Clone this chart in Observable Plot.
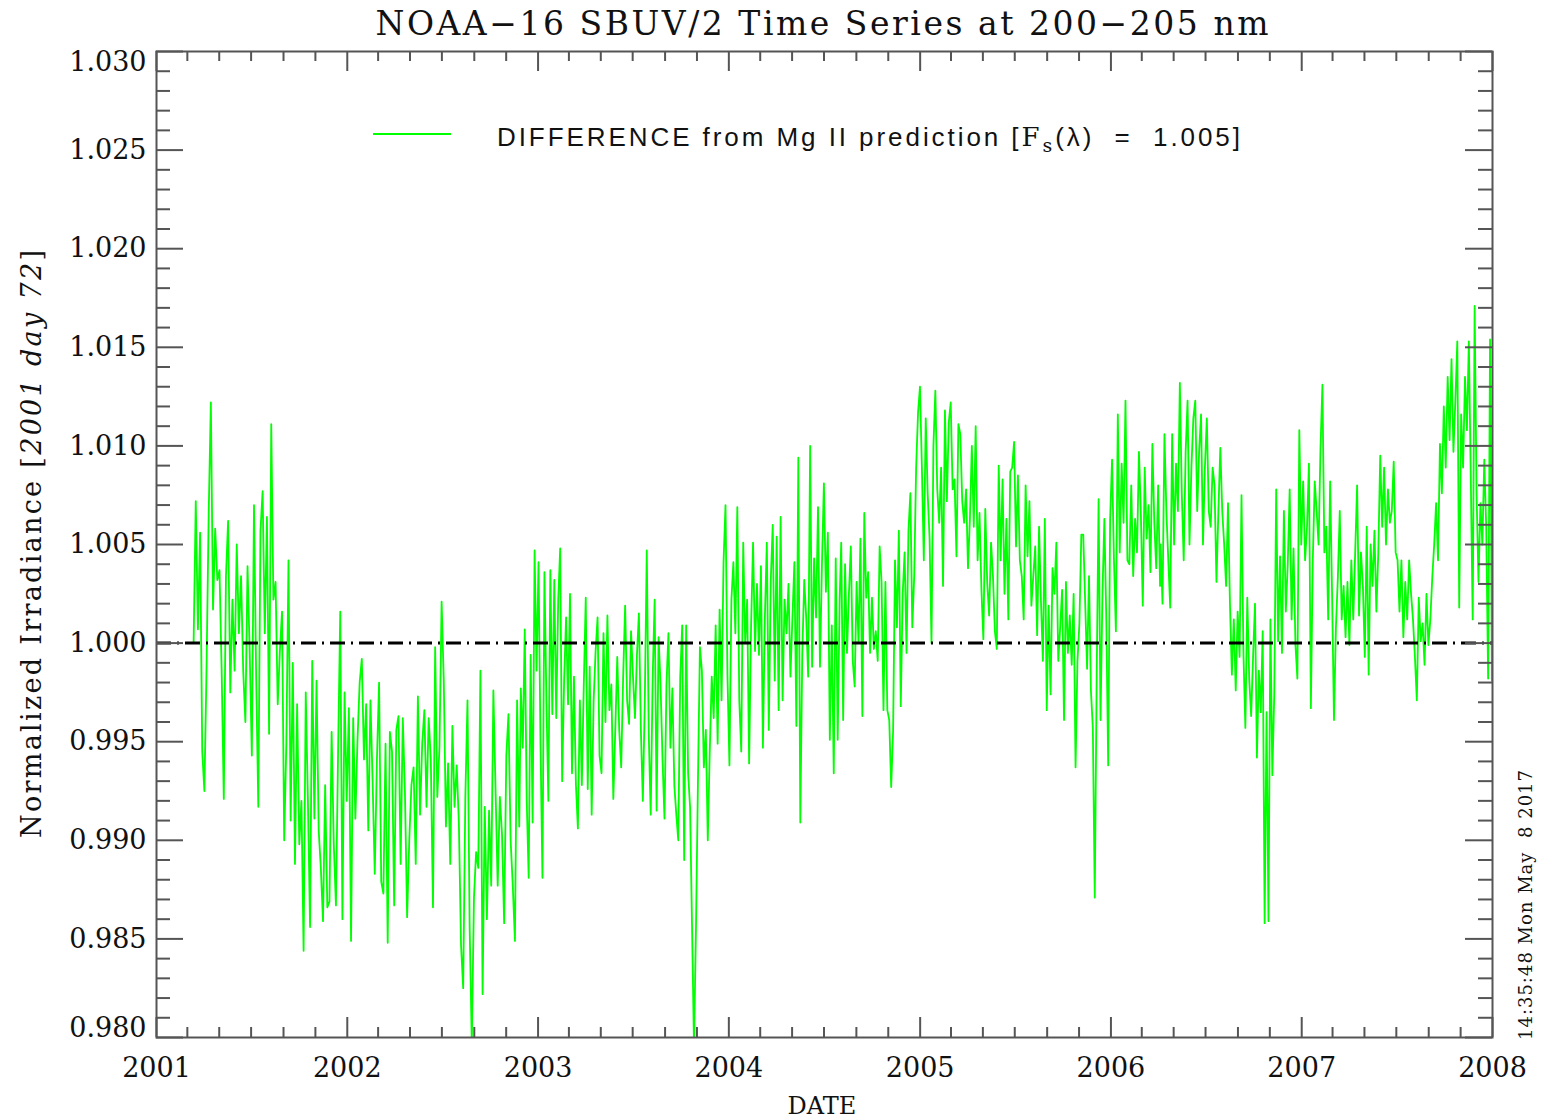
<!DOCTYPE html>
<html><head><meta charset="utf-8">
<script src="https://cdn.jsdelivr.net/npm/d3@7"></script>
<script src="https://cdn.jsdelivr.net/npm/@observablehq/plot@0.6"></script>
<style>html,body{margin:0;padding:0;background:#fff;}#chart{width:1542px;height:1119px;}</style>
</head><body><div id="chart"></div>
<script>
// Deviations from 1.000 in units of 0.001 (value = 1 + d/1000), in time order.
const seg1Dates = ["2001-03-13", "2002-11-26"];
const seg1Dev = [0,7.2,0.7,5.6,-5.5,-7.5,-1.2,6.6,12.2,1.7,5.8,3.2,3.7,-1.4,-7.9,3.4,6.2,-2.5,2.2,-1.4,5.0,0.5,3.4,-1.4,-4.0,3.9,-0.4,-5.7,7.0,-1.7,-8.3,5.7,7.7,0.5,6.4,-4.6,11.1,2.2,3.1,-3.1,-0.4,1.6,-10.0,-5.1,4.2,-9.0,-1.0,-11.2,-3.1,-10.2,-8.0,-15.6,-2.5,-8.0,-14.4,-0.9,-8.9,-1.9,-9.5,-11.4,-14.1,-7.2,-13.4,-13.1,-4.5,-10.2,-13.3,-5.5,1.6,-14.0,-2.5,-8.0,-3.3,-15.1,-3.8,-8.9,-4.9,-2.0,-0.8,-5.9,-3.1,-9.5,-2.9,-7.0,-11.7,-5.9,-2.0,-12.1,-12.7,-5.1,-15.2,-4.5,-5.5,-13.3,-4.4,-3.7,-11.2,-3.8,-7.6,-13.9,-10.0,-7.2,-6.3,-11.2,-2.7,-8.7,-5.1,-3.4,-8.3,-3.8,-5.9,-13.4,-0.2,-7.8,-5.3,2.1,-1.9,-9.3,-6.1,-11.2,-4.2,-8.3,-6.2,-9.1,-15.3,-17.5,-7.8,-2.9,-14.4,-20.3,-12.9,-10.6,-11.4,-1.4,-17.8,-8.3,-14.0,-8.5,-12.3,-2.4,-7.4,-12.3,-7.8,-9.7,-14.2,-5.7,-3.6,-10.0,-12.3,-15.1,-2.9,-9.3];
const seg2Dates = ["2002-11-29", "2004-07-31"];
const seg2Dev = [-2.3,-5.3,0.7,-8.0,-11.9,-0.6,-9.1,4.7,-1.4,4.1,-5.1,-11.9,3.6,-2.9,-8.0,3.7,-3.6,3.2,-3.8,2.2,4.8,-7.0,-1.9,1.3,-3.1,2.5,-6.6,-1.7,-7.2,-9.4,-2.9,-7.2,-2.1,2.3,-7.4,-1.2,-8.7,-2.9,-0.4,1.3,-5.7,-6.6,0.5,-4.0,1.4,-3.4,-2.1,-7.9,-4.4,-0.7,-4.4,-6.3,-1.7,1.9,-2.9,-4.1,0.6,-1.7,-3.8,-0.6,1.5,-4.4,-8.0,-2.9,4.7,-4.6,-8.7,-1.7,2.2,-8.5,0.3,-2.1,-5.9,-8.9,-2.1,0.5,-5.3,-2.3,-7.2,-8.7,-10.0,-1.7,0.9,-11.0,0.9,-6.6,-8.3,-14.4,-20.5,-14.4,-7.0,-0.2,-1.4,-6.3,-4.4,-10.0,-5.5,-1.7,-3.8,0.9,-5.1,1.7,-2.9,4.1,7.0,-1.7,-6.2,2.2,4.1,0.5,6.9,-2.9,-5.5,5.1,0.0,2.2,-6.1,0.9,5.1,-0.4,3.0,-0.6,3.9,-5.3,1.3,5.1,-4.4,3.2,6.0,-1.9,5.4,-3.4,6.4,-2.9,2.2,0.5,3.0,-1.7,1.3,4.1,-4.2,9.4,-9.1,-0.6,3.2,1.3,-1.7,10.0,-1.2,4.3,1.3,6.9,-1.2,4.0,8.1,2.6,5.6,-4.9,0.9,-6.6,4.3,-4.9,2.2];
const seg3Dates = ["2004-08-03", "2006-04-05"];
const seg3Dev = [5.1,-3.9,4.0,-0.5,2.5,4.9,-0.9,-2.2,3.1,0.0,5.3,-3.7,6.6,2.3,3.6,-0.5,2.3,-0.3,0.6,-0.9,4.9,3.1,-3.4,3.1,-3.4,-3.9,-7.3,-4.5,4.2,0.8,5.7,-3.2,2.5,4.6,-0.5,5.7,7.6,0.8,3.4,8.9,11.7,13.0,8.9,4.2,11.4,7.6,5.3,0.0,10.0,12.8,7.8,6.1,8.9,2.9,11.8,7.2,11.2,12.2,7.8,8.3,4.4,11.1,10.6,7.2,6.1,7.8,3.8,6.3,10.0,5.9,11.0,4.2,6.6,2.7,0.2,6.8,3.1,1.4,5.1,3.4,0.6,-0.3,9.0,4.2,8.3,2.5,6.3,1.2,8.7,8.9,10.2,4.9,8.5,4.2,3.4,1.2,8.0,4.4,7.2,1.9,3.4,4.9,0.4,5.9,2.1,-0.9,6.3,-3.4,1.9,-2.6,3.8,2.5,5.1,-0.9,0.8,2.7,-3.9,3.1,-0.5,1.4,-1.1,2.5,-6.3,-0.9,1.0,5.5,5.5,2.1,-1.3,3.4,-2.4,-4.3,-12.9,-1.7,7.3,-3.9,2.5,6.3,1.2,-6.2,6.3,9.3,4.2,0.6,11.6,4.6,9.1,6.1,12.3,4.2,4.0,8.0,3.4,6.3,4.6,9.7,6.6,1.9,8.9,5.3,7.0,3.6,10.1,6.1,3.8,8.0,2.9];
const seg4Dates = ["2006-04-06", "2007-12-31"];
const seg4Dev = [5.0,2.0,10.6,6.7,4.2,1.8,10.6,5.0,9.1,6.7,13.2,7.6,4.2,9.7,12.3,5.0,8.9,11.4,12.3,6.7,9.7,11.6,5.0,8.9,11.4,6.7,5.9,8.9,8.0,3.1,6.7,9.9,6.7,5.0,2.9,7.1,2.0,-1.6,1.2,-2.4,1.6,-0.7,7.5,-0.5,-4.3,2.3,-1.8,-3.7,-0.7,2.0,-5.8,-1.4,-3.5,0.6,-14.2,-3.5,-14.1,1.2,-6.7,-2.6,7.8,0.1,4.4,-0.5,6.7,1.6,4.0,7.8,1.2,4.8,-0.1,-1.8,10.8,5.0,8.2,4.2,5.9,9.1,-3.3,4.2,8.2,6.7,5.0,9.9,13.1,4.6,5.9,1.2,8.2,2.5,-3.9,0.8,3.3,6.7,1.2,2.9,0.3,3.1,-0.1,4.2,1.2,4.6,8.0,1.4,4.6,2.9,-0.7,5.9,-1.6,5.0,2.9,5.7,1.6,4.6,9.5,5.9,8.9,5.0,7.8,6.1,6.7,9.2,4.6,4.2,1.6,4.2,0.3,3.1,1.2,4.2,2.5,1.2,-0.7,-2.9,2.3,0.1,1.0,-1.1,2.5,-0.1,1.2,3.3,5.0,7.1,4.2,10.1,7.6,12.0,8.9,13.5,10.3,14.4,9.7,12.3,15.3,1.8,11.6,8.9,13.5,10.8,15.3,8.4,1.2,17.1,7.6,3.1,7.1,5.0,9.3,5.9,-1.8,15.4,-1.9];

const yMajorTicks = [0.980, 0.985, 0.990, 0.995, 1.000, 1.005, 1.010, 1.015, 1.020, 1.025, 1.030];
const yearTicks = [2001, 2002, 2003, 2004, 2005, 2006, 2007, 2008];
const referenceLevel = 1.000;

const W = 1542, H = 1119;
const mL = 156, mR = 50, mT = 51, mB = 82;
const FW = W - mL - mR, FH = H - mT - mB;

function expand(range, devs) {
  const t0 = new Date(range[0] + "T00:00Z").getTime(), t1 = new Date(range[1] + "T00:00Z").getTime();
  return devs.map((d, i) => ({date: new Date(t0 + (t1 - t0) * i / (devs.length - 1)), value: 1 + d / 1000}));
}
const series = [
  ...expand(seg1Dates, seg1Dev), ...expand(seg2Dates, seg2Dev),
  ...expand(seg3Dates, seg3Dev), ...expand(seg4Dates, seg4Dev)
];

const yMinorTicks = d3.range(980, 1031).map(v => v / 1000).filter(v => !yMajorTicks.some(m => Math.abs(m - v) < 1e-9));
const xMajor = yearTicks.map(y => new Date(Date.UTC(y, 0, 1)));
const xMinor = d3.utcMonth.every(2).range(xMajor[0], xMajor[xMajor.length - 1]).filter(d => d.getUTCMonth() !== 0);

const tickColor = "#555";
const fmt = d => d.toFixed(3);
const plot = Plot.plot({
  width: W, height: H,
  marginLeft: mL, marginRight: mR, marginTop: mT, marginBottom: mB,
  style: {background: "white", fontFamily: "'DejaVu Serif', serif", fontSize: "27px", color: "#111"},
  x: {type: "utc", domain: [xMajor[0], xMajor[xMajor.length - 1]]},
  y: {domain: [0.98, 1.03]},
  marks: [
    Plot.lineY(series, {x: "date", y: "value", stroke: "#00ff00", strokeWidth: 1.8, clip: true}),
    Plot.ruleY([referenceLevel], {stroke: "#000", strokeWidth: 3, strokeDasharray: "15,6,2,6"}),
    Plot.ruleY(yMinorTicks, {insetRight: FW - 14, stroke: tickColor, strokeWidth: 2}),
    Plot.ruleY(yMajorTicks, {insetRight: FW - 27, stroke: tickColor, strokeWidth: 2}),
    Plot.ruleY(yMinorTicks, {insetLeft: FW - 14, stroke: tickColor, strokeWidth: 2}),
    Plot.ruleY(yMajorTicks, {insetLeft: FW - 27, stroke: tickColor, strokeWidth: 2}),
    Plot.ruleX(xMinor, {insetTop: FH - 10, stroke: tickColor, strokeWidth: 2}),
    Plot.ruleX(xMajor, {insetTop: FH - 20, stroke: tickColor, strokeWidth: 2}),
    Plot.ruleX(xMinor, {insetBottom: FH - 10, stroke: tickColor, strokeWidth: 2}),
    Plot.ruleX(xMajor, {insetBottom: FH - 20, stroke: tickColor, strokeWidth: 2}),
    Plot.frame({stroke: tickColor, strokeWidth: 2}),
    Plot.axisY(yMajorTicks.slice(1, -1), {anchor: "left", tickSize: 0, tickPadding: 10, tickFormat: fmt, label: null, fill: "#111"}),
    Plot.axisY([yMajorTicks[yMajorTicks.length - 1]], {anchor: "left", tickSize: 0, tickPadding: 10, tickFormat: fmt, label: null, dy: 11, fill: "#111"}),
    Plot.axisY([yMajorTicks[0]], {anchor: "left", tickSize: 0, tickPadding: 10, tickFormat: fmt, label: null, dy: -9, fill: "#111"}),
    Plot.axisX(xMajor, {anchor: "bottom", tickSize: 0, tickPadding: 20, tickFormat: "%Y", label: null, fill: "#111"})
  ]
});
document.getElementById("chart").appendChild(plot);

const svg = d3.select(plot);
svg.append("text").attr("x", 822).attr("y", 35).attr("text-anchor", "middle")
  .attr("font-family", "'DejaVu Serif', serif").attr("font-size", 33).attr("fill", "#111")
  .attr("textLength", 893).attr("lengthAdjust", "spacing")
  .text("NOAA\u221216 SBUV/2 Time Series at 200\u2212205 nm");

svg.append("line").attr("x1", 373).attr("x2", 451).attr("y1", 134).attr("y2", 134)
  .attr("stroke", "#00ff00").attr("stroke-width", 1.8);
const leg = svg.append("text").attr("x", 497).attr("y", 146).attr("text-anchor", "start")
  .attr("font-family", "'Liberation Sans', Arial, sans-serif").attr("font-size", 26).attr("fill", "#111")
  .attr("textLength", 743).attr("lengthAdjust", "spacing");
leg.append("tspan").text("DIFFERENCE from Mg II prediction [");
leg.append("tspan").attr("font-family", "'DejaVu Serif', serif").text("F");
leg.append("tspan").attr("font-family", "'DejaVu Serif', serif").attr("font-size", 19).attr("dy", 6).text("s");
leg.append("tspan").attr("dy", -6).text("(\u03bb)  =  1.005]");

const yl = svg.append("text").attr("transform", "translate(41,544) rotate(-90)").attr("text-anchor", "middle")
  .attr("font-family", "'DejaVu Serif', serif").attr("font-size", 27).attr("fill", "#111")
  .attr("textLength", 588).attr("lengthAdjust", "spacing");
yl.append("tspan").text("Normalized Irradiance [");
yl.append("tspan").attr("font-style", "italic").text("2001 day 72");
yl.append("tspan").text("]");

svg.append("text").attr("x", 822).attr("y", 1114).attr("text-anchor", "middle")
  .attr("font-family", "'DejaVu Serif', serif").attr("font-size", 24).attr("fill", "#111").text("DATE");

svg.append("text").attr("transform", "translate(1532,1040) rotate(-90)").attr("text-anchor", "start")
  .attr("font-family", "'DejaVu Serif', serif").attr("font-size", 18).attr("fill", "#111")
  .attr("textLength", 270).attr("lengthAdjust", "spacing")
  .style("white-space", "pre").text("14:35:48 Mon May  8 2017");
</script></body></html>
